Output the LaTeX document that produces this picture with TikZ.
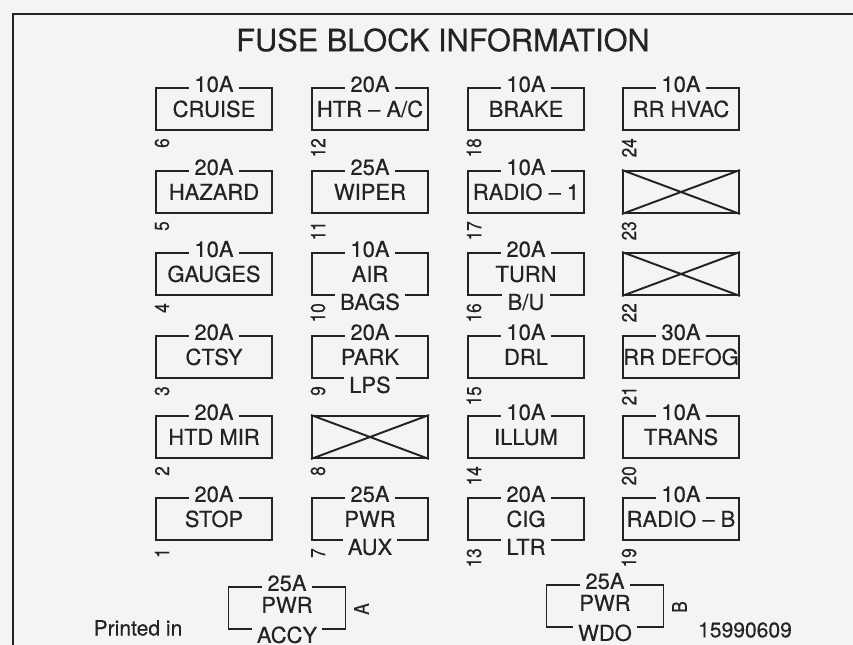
\documentclass[tikz,border=0pt]{standalone}
\usepackage{fontspec}
\setmainfont{TeX Gyre Heros}[FakeBold=0.4]
\usetikzlibrary{positioning, calc}
\usepackage{xcolor}
\definecolor{cPaper}{HTML}{F4F4F4}
\definecolor{cInk}{HTML}{232323}
\tikzset{
  fusebox/.style={
    draw=cInk, line width=1.1pt,
    minimum width=2.32cm, minimum height=0.84cm,
    inner sep=0pt, text=cInk, text height=9pt, text depth=0pt,
    font=\fontsize{12.5}{13}\selectfont,
  },
  amplabel/.style={
    fill=cPaper, inner ysep=1pt, inner xsep=3pt, text=cInk,
    text height=9pt, text depth=0pt,
    font=\fontsize{12.5}{13}\selectfont,
  },
  slotnum/.style={
    rotate=90, xscale=0.85, anchor=east, inner sep=0pt, text=cInk,
    font=\fontsize{11.5}{12}\selectfont,
  },
  emptyslot/.style={draw=cInk, line width=1.1pt},
}

\begin{document}
\begin{tikzpicture}[x=0.02cm, y=-0.02cm]
  \useasboundingbox (0,0) rectangle (853,645);
  \fill[cPaper] (0,0) rectangle (853,645);

  % outer frame (only top and left edge show)
  \draw[cInk, line width=1.7pt] (13,645) -- (13,14) -- (853,14);

  \node[text=cInk, font=\fontsize{17.5}{18}\selectfont] (title) at (443,40)
    {FUSE BLOCK INFORMATION};

  % fuses with a label
  \foreach \n/\x/\y/\amp/\txt in {
    6/214/109/10A/CRUISE, 5/214/192/20A/HAZARD, 4/214/274/10A/GAUGES,
    3/214/357/20A/CTSY, 2/214/437/20A/HTD MIR, 1/214/519/20A/STOP,
    12/370/109/20A/{HTR -- A/C}, 11/370/192/25A/WIPER, 10/370/274/10A/AIR,
    9/370/357/20A/PARK, 7/370/519/25A/PWR,
    18/526/109/10A/BRAKE, 17/526/192/10A/{RADIO -- 1}, 16/526/274/20A/TURN,
    15/526/357/10A/DRL, 14/526/437/10A/ILLUM, 13/526/519/20A/CIG,
    24/681/109/10A/RR HVAC, 21/681/357/30A/RR DEFOG, 20/681/437/10A/TRANS,
    19/681/519/10A/{RADIO -- B}} {
    \node[fusebox] (f\n) at (\x,\y) {\txt};
    \node[amplabel] (a\n) at ([shift={(0,-3)}]f\n.north) {\amp};
    \node[slotnum] (n\n) at ([shift={(7,7)}]f\n.south west) {\n};
  }

  % empty slots
  \foreach \n/\x/\y in {23/681/192, 22/681/274, 8/370/437} {
    \node[fusebox] (f\n) at (\x,\y) {};
    \draw[emptyslot] (f\n.north west) -- (f\n.south east);
    \draw[emptyslot] (f\n.south west) -- (f\n.north east);
    \node[slotnum] (n\n) at ([shift={(7,7)}]f\n.south west) {\n};
  }

  % spare fuses at the bottom
  \foreach \n/\x/\y in {A/287/608, B/605/606} {
    \node[fusebox, minimum width=2.34cm] (f\n) at (\x,\y) {};
    \node[text=cInk, font=\fontsize{12.5}{13}\selectfont, text height=9pt, text depth=0pt,
          inner sep=0pt] (p\n) at ([shift={(0,-3)}]f\n.center) {PWR};
    \node[amplabel] (a\n) at ([shift={(0,-3)}]f\n.north) {25A};
    \node[slotnum, anchor=center] (n\n) at ([shift={(15,1)}]f\n.east) {\n};
  }

  % second line sits on the lower edge
  \foreach \n/\txt in {10/BAGS, 9/LPS, 16/{B/U}, 7/AUX, 13/LTR} {
    \node[amplabel] (b\n) at ([shift={(0,6)}]f\n.south) {\txt};
  }
  \foreach \n/\txt in {A/ACCY, B/WDO} {
    \node[amplabel] (b\n) at ([shift={(0,5)}]f\n.south) {\txt};
  }

  \node[text=cInk, font=\fontsize{12}{13}\selectfont] (printed) at (138,628) {Printed in};
  \node[text=cInk, font=\fontsize{12}{13}\selectfont] (partno) at (745,630) {15990609};
\end{tikzpicture}
\end{document}
